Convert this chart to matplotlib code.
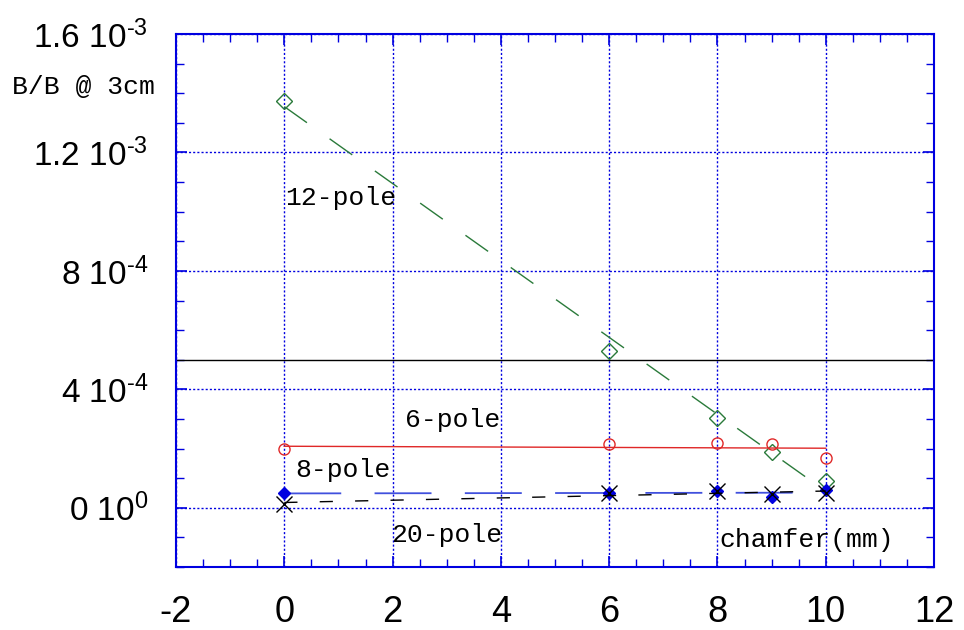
import numpy as np
import matplotlib
matplotlib.use("Agg")
import matplotlib.pyplot as plt
from matplotlib.ticker import MultipleLocator, FixedLocator

plt.rcParams['font.family'] = ['Liberation Sans', 'DejaVu Sans']
plt.rcParams['mathtext.fontset'] = 'custom'
plt.rcParams['mathtext.rm'] = 'Liberation Sans'
plt.rcParams['mathtext.it'] = 'Liberation Sans'
plt.rcParams['mathtext.bf'] = 'Liberation Sans'
plt.rcParams['lines.scale_dashes'] = False

# ---- data ----
chamfer = [0, 6, 8, 9, 10]
pole12 = [1.375e-3, 5.31e-4, 3.03e-4, 1.88e-4, 9.1e-5]
pole6 = [1.98e-4, 2.17e-4, 2.19e-4, 2.14e-4, 1.69e-4]
pole8 = [4.9e-5, 5.0e-5, 5.5e-5, 3.7e-5, 6.0e-5]
pole20 = [1.3e-5, 5.0e-5, 5.8e-5, 4.7e-5, 4.9e-5]
limit_level = 5e-4

xticks = [-2, 0, 2, 4, 6, 8, 10, 12]
yticks = [0, 4e-4, 8e-4, 1.2e-3, 1.6e-3]
yticklabels = ['0 10$^{0}$', '4 10$^{\u2010 4}$', '8 10$^{\u2010 4}$',
               '1.2 10$^{\u2010 3}$', '1.6 10$^{\u2010 3}$']

BLUE = '#0000e0'
GREEN = '#2a7a3a'
RED = '#e02828'
LBLUE = '#4050dd'

fig = plt.figure(figsize=(9.64, 6.30), dpi=100)
ax = fig.add_axes([176/964, 1-567/630, (934-176)/964, (567-34)/630])

ax.set_xlim(-2, 12)
ax.set_ylim(-2e-4, 1.6e-3)

ax.xaxis.set_major_locator(FixedLocator(xticks))
ax.xaxis.set_minor_locator(MultipleLocator(0.5))
ax.yaxis.set_major_locator(FixedLocator(yticks))
ax.yaxis.set_minor_locator(MultipleLocator(1e-4))
ax.set_xticklabels([str(v) for v in xticks], fontsize=26)
ax.set_yticklabels(yticklabels, fontsize=24)

ax.tick_params(which='both', direction='in', top=True, right=True, color=BLUE)
ax.tick_params(which='major', length=8, width=1.2)
ax.tick_params(which='minor', length=6, width=1.0)
ax.tick_params(axis='x', which='major', pad=20)
ax.tick_params(axis='y', which='major', pad=20)
for s in ax.spines.values():
    s.set_color(BLUE)
    s.set_linewidth(1.5)

ax.set_axisbelow(True)
ax.grid(True, which='major', color=BLUE, linestyle=(0, (1.5, 1.5)), linewidth=1.0)

x_arr = np.array(chamfer, dtype=float)
xfit = np.array([min(chamfer), max(chamfer)], dtype=float)

def fit(y):
    c = np.polyfit(x_arr, np.array(y), 1)
    return np.polyval(c, xfit)

ax.axhline(limit_level, color='black', linewidth=1.0)

# 12-pole
l, = ax.plot(xfit, fit(pole12), color=GREEN, linewidth=1.0)
l.set_dashes((20, 20))
ax.plot(chamfer, pole12, linestyle='none', marker='D', markersize=8,
        markerfacecolor='none', markeredgecolor=GREEN, markeredgewidth=1.0)

# 6-pole
ax.plot(xfit, fit(pole6), color=RED, linewidth=1.0)
ax.plot(chamfer, pole6, linestyle='none', marker='o', markersize=8,
        markerfacecolor='none', markeredgecolor=RED, markeredgewidth=1.0)

# 8-pole
l, = ax.plot(xfit, fit(pole8), color=LBLUE, linewidth=1.3)
l.set_dashes((41, 24))
ax.plot(chamfer, pole8, linestyle='none', marker='D', markersize=6,
        markerfacecolor=BLUE, markeredgecolor=BLUE)

# 20-pole
l, = ax.plot(xfit, fit(pole20), color='black', linewidth=1.0)
l.set_dashes((9.5, 16))
ax.plot(chamfer, pole20, linestyle='none', marker='x', markersize=12,
        color='black', markeredgewidth=1.0)

mono = ['Liberation Mono', 'DejaVu Sans Mono']
ax.text(0.02, 1.045e-3, '12-pole', fontsize=19, family=mono, va='center', ha='left')
ax.text(2.23, 2.96e-4, '6-pole', fontsize=19, family=mono, va='center', ha='left')
ax.text(0.2, 1.28e-4, '8-pole', fontsize=19, family=mono, va='center', ha='left')
ax.text(1.97, -0.91e-4, '20-pole', fontsize=19, family=mono, va='center', ha='left')
ax.text(8.03, -1.08e-4, 'chamfer(mm)', fontsize=19, family=mono, va='center', ha='left')
fig.text(12/964, 1-87/630, 'B/B @ 3cm', fontsize=19, family=mono, va='center', ha='left')

fig.savefig('out.png', dpi=100)
